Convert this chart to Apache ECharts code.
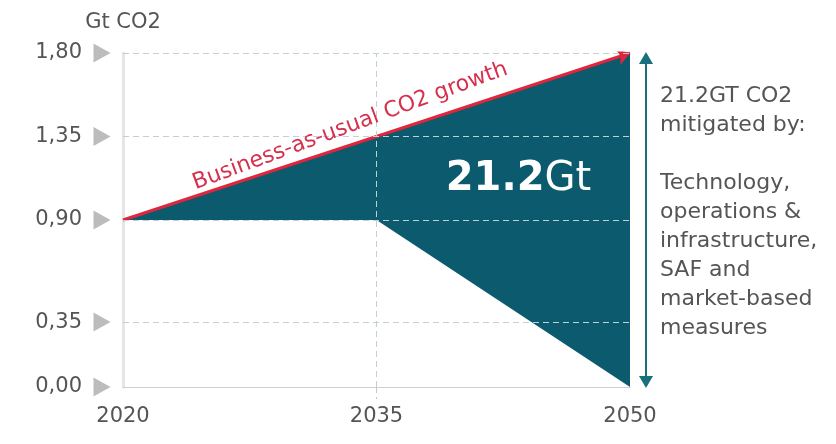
<!DOCTYPE html>
<html><head><meta charset="utf-8">
<script src="https://cdn.jsdelivr.net/npm/echarts@6/dist/echarts.min.js"></script>
<style>html,body{margin:0;padding:0;background:#fff}#c{width:836px;height:444px}</style>
</head><body><div id="c"></div>
<script>
// ---- data ----
const years = [2020, 2035, 2050];
const businessAsUsual = [0.90, 1.35, 1.80];
const mitigationPath = [0.90, 0.90, 0.00];
const yTickValues = [0.00, 0.35, 0.90, 1.35, 1.80];
const yTickLabels = ['0,00', '0,35', '0,90', '1,35', '1,80'];
const xTickValues = [2020, 2035, 2050];
const gridYValues = [0.35, 0.90, 1.35, 1.80];
const gridXValues = [2035];
const yUnit = 'Gt CO2';
const bauLabel = 'Business-as-usual CO2 growth';
const totalLabel = ['21.2', 'Gt'];
const sideText = ['21.2GT CO2', 'mitigated by:', '', 'Technology,', 'operations &', 'infrastructure,', 'SAF and', 'market-based', 'measures'];

// ---- styles ----
const TEAL = '#0b5a6e';
const ARROW_TEAL = '#17707c';
const RED = '#e0263c';
const TEXT_RED = '#d6304e';
const GREY_TXT = '#555555';
const FONT = 'DejaVu Sans';

const chart = echarts.init(document.getElementById('c'), null, {renderer: 'canvas'});

function gridMarkLine(color, withX) {
  return {
    silent: true, symbol: 'none', label: {show: false},
    lineStyle: {color: color, type: [6, 4], width: 1},
    data: gridYValues.map(v => ({yAxis: v})).concat(gridXValues.map(v => ({xAxis: v})))
  };
}

const option = {
  animation: false,
  backgroundColor: '#fff',
  grid: {left: 123, right: 206, top: 53, bottom: 57},
  xAxis: {
    type: 'value', min: years[0], max: years[years.length - 1],
    axisLine: {show: true, lineStyle: {color: '#cfcfcf', width: 1}},
    axisTick: {show: true, customValues: gridXValues, length: 12, lineStyle: {color: '#c8c8c8', type: [6, 4]}},
    axisLabel: {customValues: xTickValues, color: GREY_TXT, fontFamily: FONT, fontSize: 21, margin: 19,
      formatter: v => String(v)},
    splitLine: {show: false}
  },
  yAxis: {
    type: 'value', min: 0, max: yTickValues[yTickValues.length - 1],
    name: yUnit, nameLocation: 'end', nameGap: 20,
    nameTextStyle: {color: GREY_TXT, fontFamily: FONT, fontSize: 21, align: 'center'},
    axisLine: {show: true, lineStyle: {color: '#e6e6e6', width: 3}},
    axisTick: {show: false},
    axisLabel: {customValues: yTickValues, color: GREY_TXT, fontFamily: FONT, fontSize: 21, margin: 41,
      formatter: v => { const i = yTickValues.findIndex(t => Math.abs(t - v) < 1e-6); return i >= 0 ? yTickLabels[i] : ''; }},
    splitLine: {show: false}
  },
  series: [
    { // triangles next to y labels + grey grid lines below the area
      type: 'scatter', z: 1, silent: true,
      data: yTickValues.map(v => [years[0], v]),
      symbol: 'path://M0,0 L10,6 L0,12 Z', symbolSize: [17, 19], symbolOffset: [-21, 0],
      itemStyle: {color: '#ababab'},
      markLine: gridMarkLine('#cdcdcd')
    },
    { // mitigation area
      type: 'custom', z: 2, silent: true,
      data: [[years[0], businessAsUsual[0]]],
      renderItem: (params, api) => {
        const pts = [];
        years.forEach((y, i) => pts.push(api.coord([y, businessAsUsual[i]])));
        for (let i = years.length - 1; i >= 0; i--) pts.push(api.coord([years[i], mitigationPath[i]]));
        return {type: 'polygon', shape: {points: pts}, style: {fill: TEAL}};
      }
    },
    { // lighter grid overlay on top of the area
      type: 'line', z: 3, silent: true, symbol: 'none',
      data: years.map((y, i) => [y, mitigationPath[i]]),
      lineStyle: {opacity: 0},
      markLine: gridMarkLine('rgba(170,215,228,0.28)')
    },
    { // business-as-usual line with arrow
      type: 'lines', coordinateSystem: 'cartesian2d', z: 4, silent: true,
      symbol: ['none', 'arrow'], symbolSize: 13,
      lineStyle: {color: RED, width: 3, opacity: 1, curveness: 0},
      data: [{coords: [[years[0], businessAsUsual[0]], [years[years.length - 1], businessAsUsual[businessAsUsual.length - 1]]]}]
    }
  ]
};
chart.setOption(option);

// ---- annotations positioned from the axes ----
const px = p => chart.convertToPixel({gridIndex: 0}, p);
const pStart = px([years[0], businessAsUsual[0]]);
const pEnd = px([years[years.length - 1], businessAsUsual[businessAsUsual.length - 1]]);
const pBottom = px([years[years.length - 1], 0]);
const ang = Math.atan2(pStart[1] - pEnd[1], pEnd[0] - pStart[0]);
const t = 0.46;
const mid = [pStart[0] + (pEnd[0] - pStart[0]) * t, pStart[1] + (pEnd[1] - pStart[1]) * t];
const off = 7;
const labelPos = [mid[0] - Math.sin(ang) * off, mid[1] - Math.cos(ang) * off];

const ax = pEnd[0] + 16;
const aTop = pEnd[1] - 1, aBot = pBottom[1] + 1;
const head = 7, headLen = 12;
const totalPos = px([2043.4, 1.115]);

chart.setOption({
  graphic: [
    {
      type: 'text', x: labelPos[0], y: labelPos[1], rotation: ang + 0.035, z: 10,
      style: {text: bauLabel, fill: TEXT_RED, font: '22px "DejaVu Sans"', align: 'center', verticalAlign: 'bottom'}
    },
    {
      type: 'text', x: totalPos[0], y: totalPos[1], z: 10,
      style: {
        text: '{b|' + totalLabel[0] + '}{n|' + totalLabel[1] + '}', align: 'center', verticalAlign: 'middle',
        rich: {
          b: {fill: '#fff', fontFamily: FONT, fontSize: 40, fontWeight: 'bold'},
          n: {fill: '#fff', fontFamily: FONT, fontSize: 40, fontWeight: 'normal'}
        }
      }
    },
    {
      type: 'line', z: 10, shape: {x1: ax, y1: aTop + headLen - 2, x2: ax, y2: aBot - headLen + 2},
      style: {stroke: ARROW_TEAL, lineWidth: 2}
    },
    {
      type: 'polygon', z: 10, shape: {points: [[ax, aTop], [ax - head, aTop + headLen], [ax + head, aTop + headLen]]},
      style: {fill: ARROW_TEAL}
    },
    {
      type: 'polygon', z: 10, shape: {points: [[ax, aBot], [ax - head, aBot - headLen], [ax + head, aBot - headLen]]},
      style: {fill: ARROW_TEAL}
    },
    {
      type: 'text', x: ax + 14, y: 82, z: 10,
      style: {text: sideText.join('\n'), fill: GREY_TXT, font: '22px "DejaVu Sans"', lineHeight: 29, align: 'left', verticalAlign: 'top'}
    }
  ]
});
</script></body></html>
